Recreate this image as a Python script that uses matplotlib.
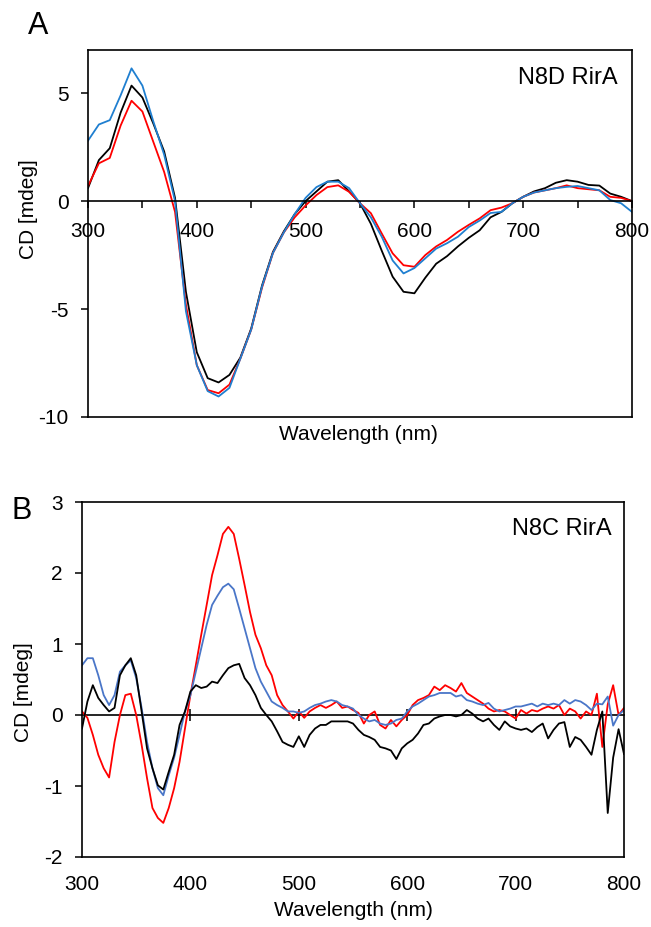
import matplotlib
matplotlib.use("Agg")
import matplotlib.pyplot as plt
from matplotlib.ticker import MultipleLocator
import numpy as np

plt.rcParams['font.family'] = ['Liberation Sans', 'DejaVu Sans']
plt.rcParams['axes.unicode_minus'] = False

# ---------------- Panel A data (N8D RirA) ----------------
wl_a = list(range(300, 801, 10))
a_black = [0.6, 1.9, 2.45, 4.1, 5.35, 4.8, 3.6, 2.3, 0.15, -4.2,
           -7.0, -8.2, -8.4, -8.05, -7.25, -5.9, -3.9, -2.35, -1.4, -0.6,
           0.0, 0.45, 0.9, 0.97, 0.45, -0.1, -1.05, -2.3, -3.5, -4.2,
           -4.27, -3.55, -2.9, -2.55, -2.1, -1.7, -1.35, -0.75, -0.5, -0.1,
           0.2, 0.45, 0.6, 0.85, 0.97, 0.9, 0.75, 0.72, 0.35, 0.2, 0.0]
a_blue = [2.8, 3.55, 3.75, 4.9, 6.15, 5.35, 3.7, 2.15, 0.0, -5.1,
          -7.6, -8.8, -9.05, -8.65, -7.3, -5.95, -3.95, -2.4, -1.45, -0.6,
          0.15, 0.65, 0.9, 0.9, 0.6, -0.1, -0.75, -1.65, -2.75, -3.35,
          -3.1, -2.65, -2.2, -1.95, -1.65, -1.2, -0.9, -0.55, -0.5, -0.1,
          0.2, 0.4, 0.5, 0.6, 0.66, 0.7, 0.6, 0.5, 0.05, -0.1, -0.5]
a_red = [0.7, 1.75, 2.0, 3.5, 4.65, 4.15, 2.75, 1.35, -0.5, -4.8,
         -7.6, -8.75, -8.9, -8.5, -7.3, -5.95, -4.0, -2.4, -1.45, -0.75,
         -0.2, 0.28, 0.65, 0.73, 0.43, -0.1, -0.56, -1.5, -2.42, -2.97,
         -3.04, -2.5, -2.1, -1.8, -1.42, -1.1, -0.8, -0.42, -0.3, -0.1,
         0.2, 0.4, 0.5, 0.6, 0.73, 0.6, 0.55, 0.5, 0.2, 0.15, 0.0]

# ---------------- Panel B data (N8C RirA) ----------------
wl_b = list(range(300, 801, 5))
b_black = [-0.19, 0.19, 0.42, 0.24, 0.14, 0.05, 0.10, 0.56, 0.70, 0.80,
           0.56, 0.05, -0.47, -0.75, -0.99, -1.05, -0.80, -0.56, -0.14, 0.05,
           0.33, 0.42, 0.38, 0.40, 0.47, 0.45, 0.56, 0.66, 0.70, 0.72,
           0.52, 0.42, 0.28, 0.10, 0.0, -0.09, -0.23, -0.38, -0.42, -0.45,
           -0.30, -0.45, -0.28, -0.19, -0.14, -0.14, -0.09, -0.09, -0.09, -0.09,
           -0.12, -0.21, -0.28, -0.31, -0.35, -0.45, -0.47, -0.50, -0.62, -0.47,
           -0.40, -0.35, -0.26, -0.14, -0.12, -0.05, -0.02, 0.0, 0.0, -0.02,
           0.0, 0.07, 0.02, -0.05, -0.09, -0.05, -0.14, -0.21, -0.09, -0.16,
           -0.19, -0.21, -0.19, -0.24, -0.17, -0.12, -0.33, -0.21, -0.12, -0.10,
           -0.45, -0.31, -0.35, -0.45, -0.56, -0.21, 0.05, -1.38, -0.60, -0.20,
           -0.55]
b_red = [0.05, -0.04, -0.28, -0.56, -0.75, -0.88, -0.38, 0.0, 0.28, 0.30,
         0.0, -0.42, -0.89, -1.31, -1.45, -1.52, -1.31, -1.03, -0.66, -0.19,
         0.28, 0.70, 1.13, 1.55, 1.97, 2.25, 2.55, 2.65, 2.55, 2.20,
         1.83, 1.45, 1.13, 0.94, 0.70, 0.56, 0.28, 0.14, 0.05, -0.05,
         0.05, -0.04, 0.05, 0.10, 0.14, 0.10, 0.14, 0.19, 0.10, 0.12,
         0.07, 0.03, -0.12, 0.0, 0.05, -0.14, -0.19, -0.07, -0.16, -0.07,
         0.0, 0.14, 0.21, 0.24, 0.28, 0.40, 0.35, 0.42, 0.38, 0.33,
         0.45, 0.31, 0.26, 0.21, 0.16, 0.09, 0.05, 0.07, 0.05, 0.0,
         -0.05, 0.07, 0.02, 0.07, 0.05, 0.09, 0.12, 0.09, 0.14, 0.0,
         0.09, 0.05, -0.05, 0.05, 0.0, 0.30, -0.45, 0.15, 0.42, 0.0,
         0.10]
b_blue = [0.70, 0.80, 0.80, 0.56, 0.28, 0.14, 0.28, 0.61, 0.70, 0.77,
          0.52, 0.10, -0.38, -0.75, -1.03, -1.13, -0.85, -0.60, -0.28, 0.05,
          0.28, 0.61, 0.94, 1.27, 1.55, 1.68, 1.80, 1.85, 1.77, 1.50,
          1.22, 0.94, 0.66, 0.47, 0.33, 0.19, 0.14, 0.10, 0.05, 0.05,
          0.03, 0.05, 0.10, 0.14, 0.16, 0.19, 0.21, 0.19, 0.14, 0.12,
          0.09, 0.0, -0.05, -0.09, -0.07, -0.12, -0.14, -0.12, -0.07, -0.05,
          0.05, 0.12, 0.16, 0.21, 0.26, 0.28, 0.31, 0.31, 0.31, 0.26,
          0.28, 0.21, 0.19, 0.16, 0.14, 0.17, 0.09, 0.05, 0.07, 0.09,
          0.12, 0.12, 0.14, 0.16, 0.12, 0.16, 0.14, 0.16, 0.14, 0.21,
          0.16, 0.21, 0.19, 0.14, 0.07, 0.16, 0.15, 0.26, -0.15, 0.0,
          0.07]

BLUE_A = '#1f7fd0'
BLUE_B = '#4a76c8'
RED = '#ff0000'
LW = 1.3

fig = plt.figure(figsize=(6.51, 9.27), dpi=100)

# ---------- Panel A ----------
axA = fig.add_axes([88/651, 1-417/927, 544/651, 367/927])
axA.plot(wl_a, a_black, color='black', lw=LW)
axA.plot(wl_a, a_red, color=RED, lw=LW)
axA.plot(wl_a, a_blue, color=BLUE_A, lw=LW)
axA.set_xlim(300, 800)
axA.set_ylim(-10, 7)
axA.set_yticks([-10, -5, 0, 5])
axA.spines['bottom'].set_position(('data', 0))
axA.xaxis.set_major_locator(MultipleLocator(100))
axA.xaxis.set_minor_locator(MultipleLocator(50))
axA.tick_params(axis='x', which='both', direction='out', length=5, width=1.1,
                labelsize=15, pad=10)
axA.tick_params(axis='y', direction='out', length=5, width=1.1, labelsize=15, pad=9)
for s in axA.spines.values():
    s.set_linewidth(1.2)
axA.plot([0, 1], [0, 0], transform=axA.transAxes, color='black', lw=1.2,
         clip_on=False)
axA.set_xlabel('Wavelength (nm)', fontsize=15)
axA.xaxis.set_label_coords(0.498, -0.022)
axA.set_ylabel('CD [mdeg]', fontsize=15)
axA.yaxis.set_label_coords(-0.092, 0.567)
axA.text(0.973, 0.925, 'N8D RirA', transform=axA.transAxes, ha='right',
         va='center', fontsize=17)
fig.text(38/651, 1-26/927, 'A', ha='center', va='center', fontsize=22)

# ---------- Panel B ----------
axB = fig.add_axes([82/651, 1-857/927, 542/651, 355/927])
axB.plot(wl_b, b_red, color=RED, lw=LW)
axB.plot(wl_b, b_blue, color=BLUE_B, lw=LW)
axB.plot(wl_b, b_black, color='black', lw=LW)
axB.set_xlim(300, 800)
axB.set_ylim(-2, 3)
axB.set_yticks([-2, -1, 0, 1, 2, 3])
axB.set_xticks([300, 400, 500, 600, 700, 800])
axB.tick_params(axis='x', length=0, labelsize=15, pad=13)
axB.tick_params(axis='y', direction='out', length=5, width=1.1, labelsize=15, pad=9)
for s in axB.spines.values():
    s.set_linewidth(1.2)
sec = axB.secondary_xaxis(0.4)
sec.set_xticks([400, 500, 600, 700])
sec.tick_params(direction='inout', length=9, width=1.1, labelbottom=False,
                labeltop=False)
sec.spines['bottom'].set_linewidth(1.2)
sec.spines['top'].set_visible(False)
axB.set_xlabel('Wavelength (nm)', fontsize=15)
axB.xaxis.set_label_coords(0.501, -0.124)
axB.set_ylabel('CD [mdeg]', fontsize=15)
axB.yaxis.set_label_coords(-0.090, 0.465)
axB.text(0.977, 0.925, 'N8C RirA', transform=axB.transAxes, ha='right',
         va='center', fontsize=17)
fig.text(22/651, 1-511/927, 'B', ha='center', va='center', fontsize=22)

fig.savefig('out.png', dpi=100)
